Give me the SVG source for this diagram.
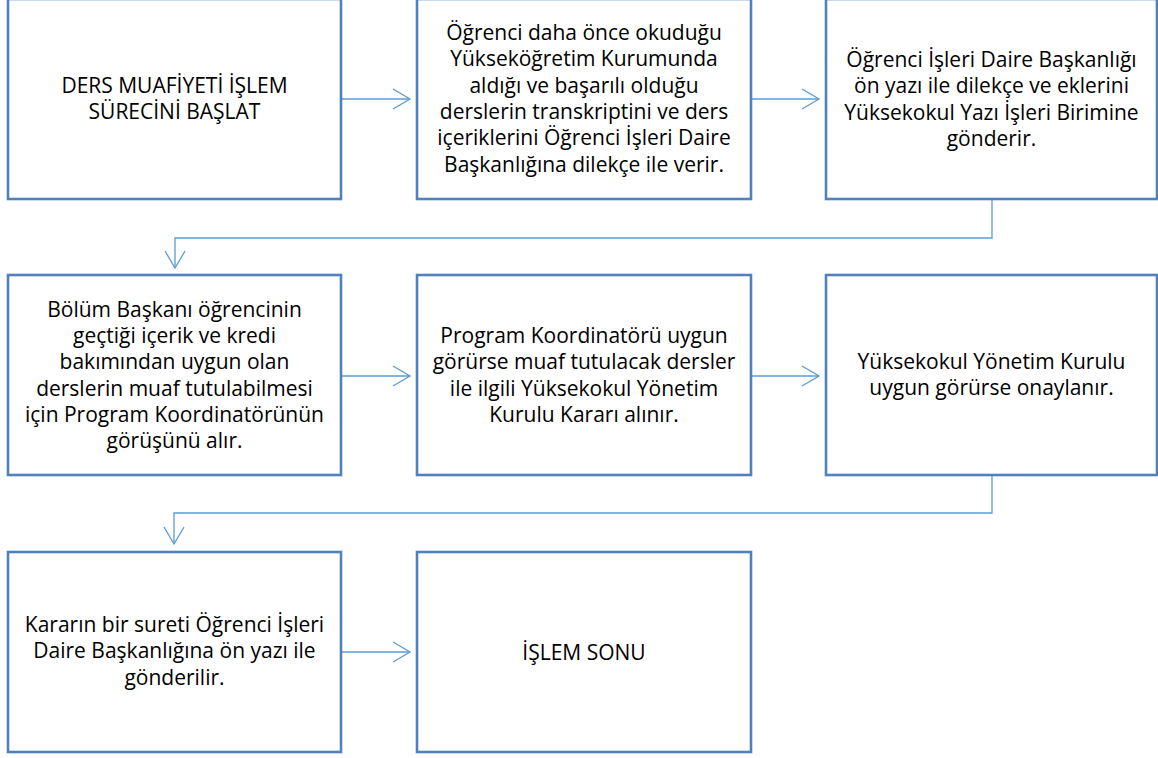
<svg xmlns="http://www.w3.org/2000/svg" width="1158" height="758" viewBox="0 0 1158 758">
<defs>
<style>
.box{fill:#fff;stroke:#4f81bd;stroke-width:2.6}
.t{font-family:"Open Sans","Noto Sans","Liberation Sans",sans-serif;font-size:21px;fill:#000;text-anchor:middle}
.c{fill:none;stroke:#5b9bd5;stroke-width:1.3}
</style>
<marker id="ah" viewBox="0 0 20 24" refX="18" refY="12" markerWidth="20" markerHeight="24" markerUnits="userSpaceOnUse" orient="auto">
<path d="M1,2 L18,12 L1,22" fill="none" stroke="#5b9bd5" stroke-width="1.3"/>
</marker>
</defs>
<rect width="1158" height="758" fill="#fff"/>
<g id="connectors">
<path class="c" d="M341,99 H410" marker-end="url(#ah)"/>
<path class="c" d="M750,99 H819" marker-end="url(#ah)"/>
<path class="c" d="M992,199 V238 H175 V268" marker-end="url(#ah)"/>
<path class="c" d="M341,376 H410" marker-end="url(#ah)"/>
<path class="c" d="M750,376 H819" marker-end="url(#ah)"/>
<path class="c" d="M992,475 V513 H174 V544" marker-end="url(#ah)"/>
<path class="c" d="M341,652 H410" marker-end="url(#ah)"/>
</g>
<g id="n1">
<rect class="box" x="8" y="-1" width="333" height="200"/>
<text class="t" x="174.5" y="93">DERS MUAFİYETİ İŞLEM</text>
<text class="t" x="174.5" y="119">SÜRECİNİ BAŞLAT</text>
</g>
<g id="n2">
<rect class="box" x="417" y="-1" width="334" height="200"/>
<text class="t" x="584" y="40">Öğrenci daha önce okuduğu</text>
<text class="t" x="584" y="66.3">Yükseköğretim Kurumunda</text>
<text class="t" x="584" y="92.6">aldığı ve başarılı olduğu</text>
<text class="t" x="584" y="118.9">derslerin transkriptini ve ders</text>
<text class="t" x="584" y="145.2">içeriklerini Öğrenci İşleri Daire</text>
<text class="t" x="584" y="171.5">Başkanlığına dilekçe ile verir.</text>
</g>
<g id="n3">
<rect class="box" x="826" y="-1" width="331" height="200"/>
<text class="t" x="991.5" y="67">Öğrenci İşleri Daire Başkanlığı</text>
<text class="t" x="991.5" y="93.3">ön yazı ile dilekçe ve eklerini</text>
<text class="t" x="991.5" y="119.6">Yüksekokul Yazı İşleri Birimine</text>
<text class="t" x="991.5" y="146">gönderir.</text>
</g>
<g id="n4">
<rect class="box" x="8" y="275" width="333" height="200"/>
<text class="t" x="174.5" y="317">Bölüm Başkanı öğrencinin</text>
<text class="t" x="174.5" y="343.2">geçtiği içerik ve kredi</text>
<text class="t" x="174.5" y="369.4">bakımından uygun olan</text>
<text class="t" x="174.5" y="395.6">derslerin muaf tutulabilmesi</text>
<text class="t" x="174.5" y="421.8">için Program Koordinatörünün</text>
<text class="t" x="174.5" y="448">görüşünü alır.</text>
</g>
<g id="n5">
<rect class="box" x="417" y="275" width="334" height="200"/>
<text class="t" x="584" y="343">Program Koordinatörü uygun</text>
<text class="t" x="584" y="369.3">görürse muaf tutulacak dersler</text>
<text class="t" x="584" y="395.6">ile ilgili Yüksekokul Yönetim</text>
<text class="t" x="584" y="422">Kurulu Kararı alınır.</text>
</g>
<g id="n6">
<rect class="box" x="826" y="275" width="331" height="200"/>
<text class="t" x="991.5" y="368.5">Yüksekokul Yönetim Kurulu</text>
<text class="t" x="991.5" y="395">uygun görürse onaylanır.</text>
</g>
<g id="n7">
<rect class="box" x="8" y="552" width="333" height="200"/>
<text class="t" x="174.5" y="632">Kararın bir sureti Öğrenci İşleri</text>
<text class="t" x="174.5" y="658.3">Daire Başkanlığına ön yazı ile</text>
<text class="t" x="174.5" y="684.6">gönderilir.</text>
</g>
<g id="n8">
<rect class="box" x="417" y="552" width="334" height="200"/>
<text class="t" x="584" y="660">İŞLEM SONU</text>
</g>
</svg>
